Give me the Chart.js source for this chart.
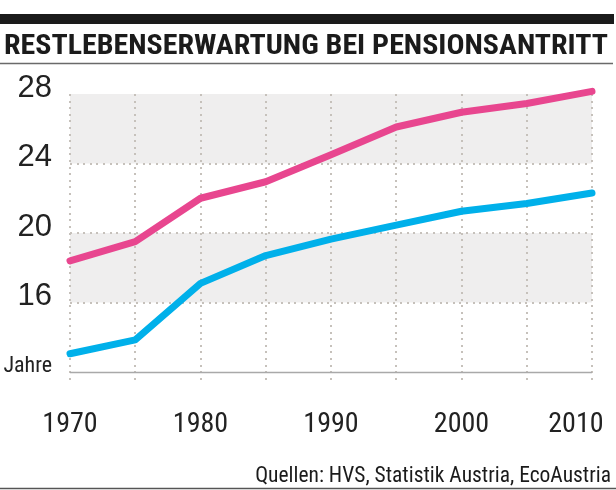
<!DOCTYPE html>
<html><head><meta charset="utf-8">
<style>html,body{margin:0;padding:0;background:#fff;}#wrap{width:616px;height:490px;}</style>
<script src="https://cdn.jsdelivr.net/npm/chart.js@4/dist/chart.umd.min.js"></script>
</head><body><div id="wrap"><canvas id="c" width="616" height="490"></canvas></div>
<script>
const years = [1970, 1975, 1980, 1985, 1990, 1995, 2000, 2005, 2010];
const seriesPink = [18.4, 19.5, 22.0, 22.95, 24.5, 26.1, 26.95, 27.45, 28.15];
const seriesBlue = [13.05, 13.85, 17.1, 18.7, 19.65, 20.45, 21.25, 21.7, 22.3];
const yTicks = [12, 16, 20, 24, 28];
const yTickLabels = ['Jahre', '16', '20', '24', '28'];
const yDottedTicks = [16, 20, 24];
const xTickValues = [1970, 1980, 1990, 2000, 2010];
const xTickLabels = ['1970', '1980', '1990', '2000', '2010'];
const bands = [[16, 20], [24, 28]];
const titleText = 'RESTLEBENSERWARTUNG BEI PENSIONSANTRITT';
const sourceText = 'Quellen: HVS, Statistik Austria, EcoAustria';

const NARROW = '"Liberation Sans Narrow", "Roboto Condensed", "DejaVu Sans Condensed", "Arial Narrow", sans-serif';
const REGULAR = '"Liberation Sans", Arial, "DejaVu Sans", sans-serif';
const DOT = '#c6c1bb';

const deco = {
  id: 'deco',
  beforeDraw(chart) {
    const {ctx, chartArea, scales} = chart;
    ctx.save();
    ctx.fillStyle = '#efeeee';
    bands.forEach(([a, b]) => {
      const y1 = scales.y.getPixelForValue(b), y2 = scales.y.getPixelForValue(a);
      ctx.fillRect(chartArea.left, y1, chartArea.right - chartArea.left, y2 - y1);
    });
    // header bar and rules
    ctx.fillStyle = '#1b1b1b';
    ctx.fillRect(0, 14, 614, 10);
    ctx.strokeStyle = '#6a6a6a';
    ctx.lineWidth = 1.5;
    ctx.beginPath(); ctx.moveTo(0, 63.5); ctx.lineTo(613, 63.5); ctx.stroke();
    ctx.strokeStyle = '#555';
    ctx.beginPath(); ctx.moveTo(0, 488.5); ctx.lineTo(616, 488.5); ctx.stroke();
    // title (condensed to the header width)
    ctx.font = 'bold 28.5px ' + NARROW;
    const w = ctx.measureText(titleText).width;
    ctx.fillStyle = '#1b1b1b';
    ctx.textAlign = 'left';
    ctx.textBaseline = 'alphabetic';
    ctx.save();
    ctx.translate(4, 53.5);
    ctx.scale(604 / w, 1);
    ctx.fillText(titleText, 0, 0);
    ctx.restore();
    // source
    ctx.font = '21.5px ' + NARROW;
    ctx.textAlign = 'right';
    ctx.fillText(sourceText, 611, 482);
    ctx.restore();
  },
  beforeDatasetsDraw(chart) {
    const {ctx, chartArea, scales} = chart;
    ctx.save();
    ctx.fillStyle = DOT;
    // vertical dotted grid (one per x tick), extending 10px below the axis
    scales.x.ticks.forEach(t => {
      const x = Math.round(scales.x.getPixelForValue(t.value));
      for (let y = chartArea.top + 1; y <= chartArea.bottom + 10; y += 6.6) {
        ctx.fillRect(x - 1, Math.round(y) - 1, 2, 2);
      }
    });
    // horizontal dotted grid
    yDottedTicks.forEach(v => {
      const y = Math.round(scales.y.getPixelForValue(v));
      for (let x = chartArea.left + 1; x <= chartArea.right; x += 6.6) {
        ctx.fillRect(Math.round(x) - 1, y - 1, 2, 2);
      }
    });
    // baseline axis
    const yb = Math.round(scales.y.getPixelForValue(12)) + 0.5;
    ctx.strokeStyle = '#a9a9a9';
    ctx.lineWidth = 1.5;
    ctx.beginPath(); ctx.moveTo(chartArea.left, yb); ctx.lineTo(chartArea.right, yb); ctx.stroke();
    ctx.restore();
  }
};

new Chart(document.getElementById('c'), {
  type: 'line',
  data: {
    datasets: [
      { data: years.map((x, i) => ({x, y: seriesPink[i]})), borderColor: '#e8468f', borderWidth: 7, clip: 10,
        pointRadius: 0, tension: 0, borderCapStyle: 'round', borderJoinStyle: 'round' },
      { data: years.map((x, i) => ({x, y: seriesBlue[i]})), borderColor: '#00b0ea', borderWidth: 7, clip: 10,
        pointRadius: 0, tension: 0, borderCapStyle: 'round', borderJoinStyle: 'round' }
    ]
  },
  options: {
    responsive: false, animation: false, devicePixelRatio: 1,
    layout: { padding: { top: 94, left: 0, right: 24, bottom: 0 } },
    plugins: { legend: { display: false }, tooltip: { enabled: false } },
    scales: {
      x: {
        type: 'linear', min: 1970, max: 2010,
        afterBuildTicks: (s) => { s.ticks = years.map(v => ({value: v})); },
        afterFit: (s) => { s.height = 118; s.paddingLeft = 0; s.paddingRight = 0; },
        ticks: {
          autoSkip: false, maxRotation: 0, padding: 26, color: '#222',
          font: { family: NARROW, size: 28 },
          callback: (v) => {
            const i = xTickValues.indexOf(v);
            if (i < 0) return '';
            return i === xTickValues.length - 1 ? xTickLabels[i] + '\u00a0\u00a0\u00a0\u00a0\u00a0' : xTickLabels[i];
          }
        },
        grid: { display: false, tickLength: 10 },
        border: { display: false }
      },
      y: {
        min: 12, max: 28,
        afterBuildTicks: (s) => { s.ticks = yTicks.map(v => ({value: v})); },
        afterFit: (s) => { s.width = 70; s.paddingTop = 0; s.paddingBottom = 0; },
        ticks: {
          padding: 18, labelOffset: -6, color: '#222',
          font: (c) => (c.tick && c.tick.value === 12) ? { family: NARROW, size: 22 } : { family: REGULAR, size: 31 },
          callback: (v) => yTickLabels[yTicks.indexOf(v)]
        },
        grid: { display: false, drawTicks: false },
        border: { display: false }
      }
    }
  },
  plugins: [deco]
});
</script></body></html>
